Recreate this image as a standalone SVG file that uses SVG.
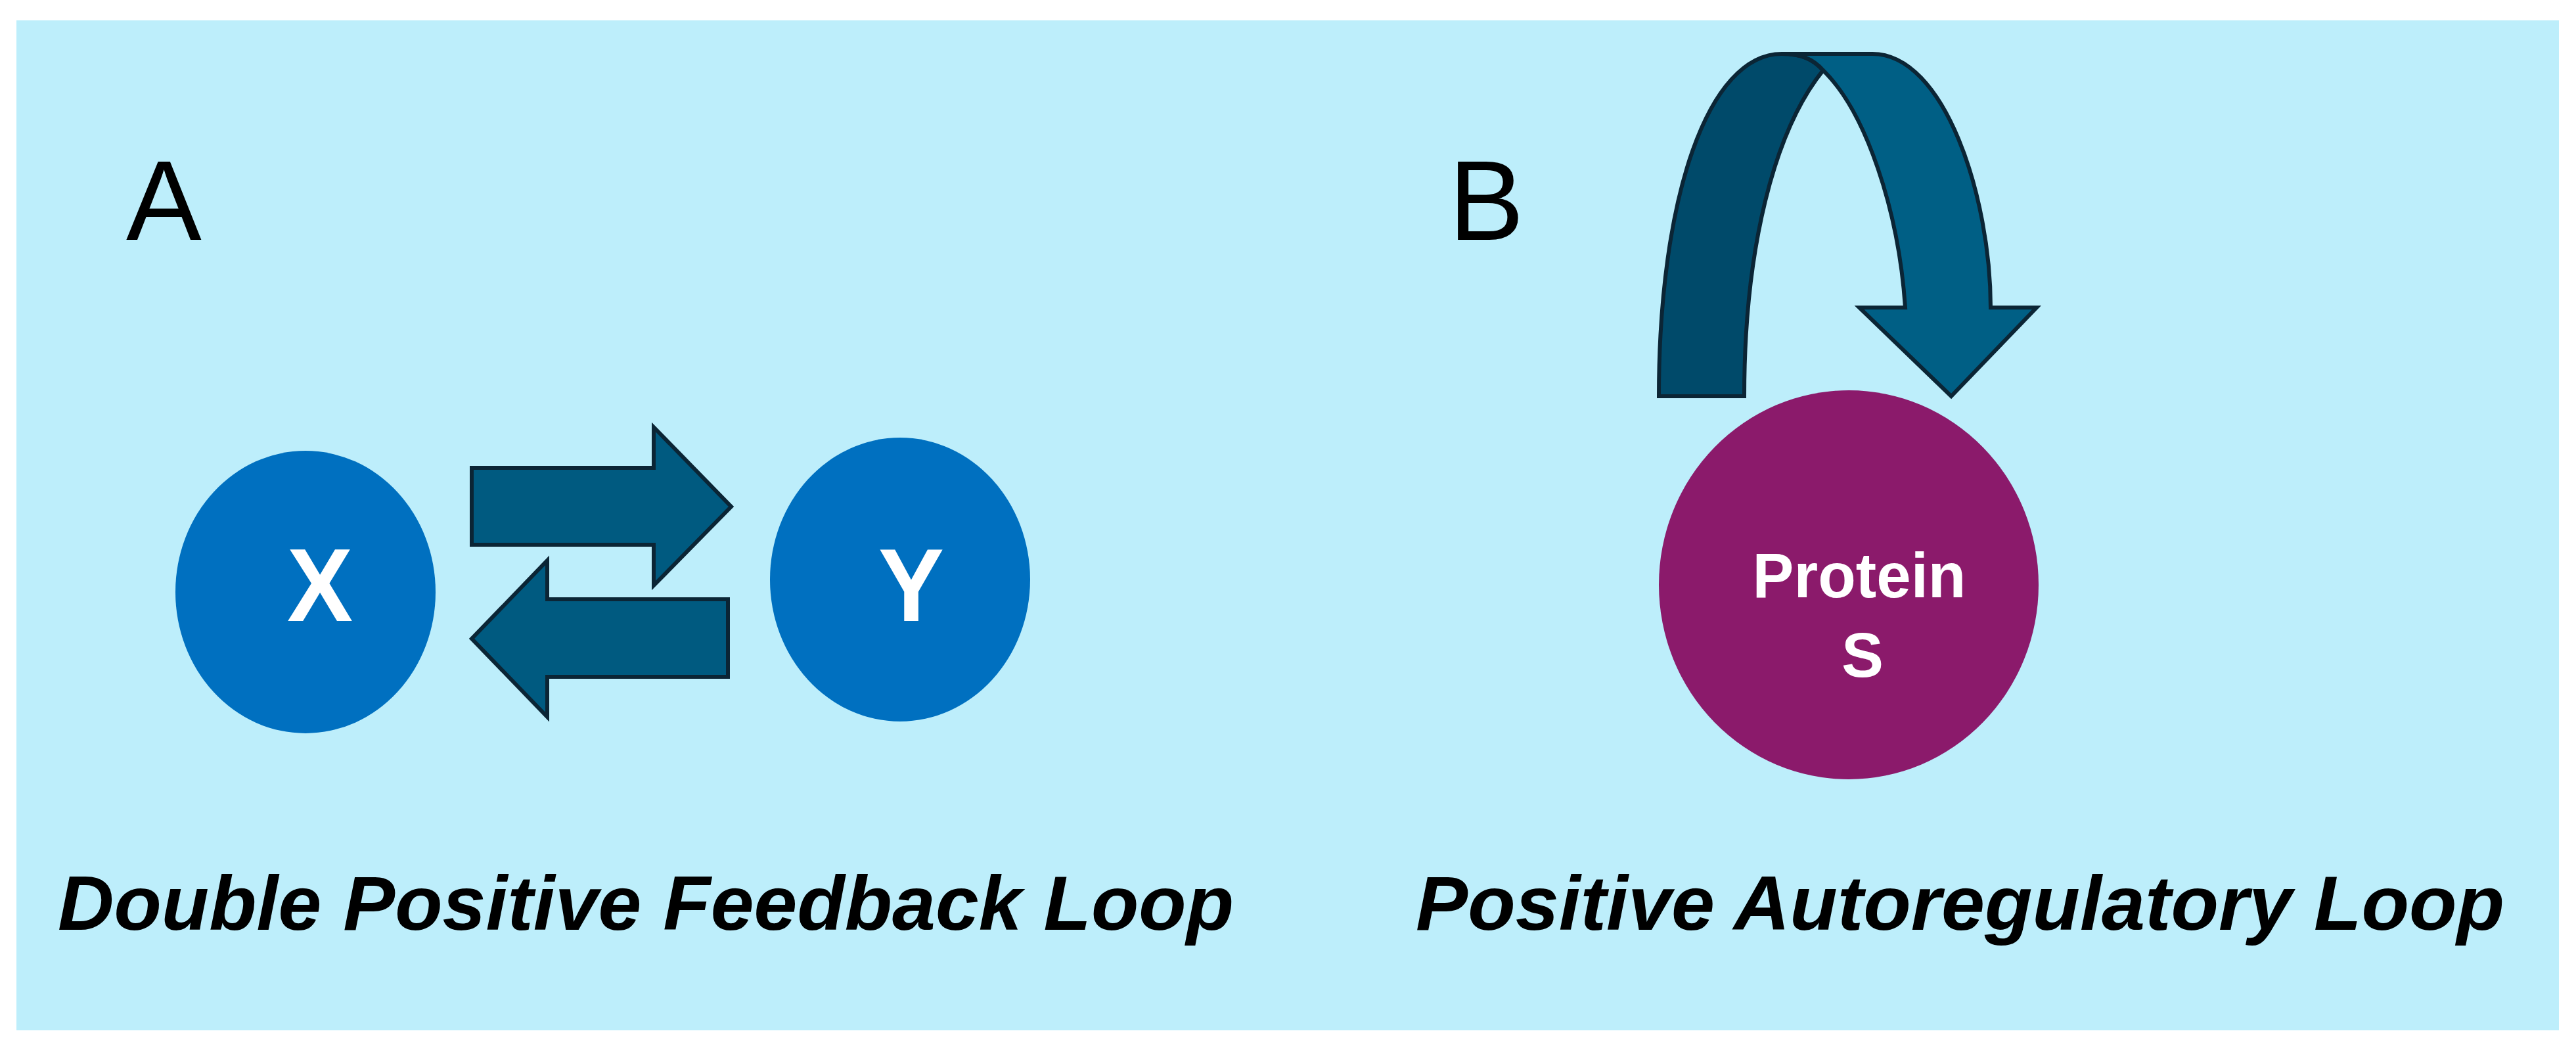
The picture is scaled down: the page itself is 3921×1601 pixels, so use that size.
<svg xmlns="http://www.w3.org/2000/svg" width="3921" height="1601" viewBox="0 0 3921 1601">
<style>
.arr{fill:#005a80;stroke:#0b2535;stroke-width:6;stroke-linejoin:miter}
.lbl{font-family:"Liberation Sans",Arial,sans-serif;font-size:172px;fill:#000}
.cap{font-family:"Liberation Sans",Arial,sans-serif;font-size:116px;font-weight:bold;font-style:italic;fill:#000}
.nt{font-family:"Liberation Sans",Arial,sans-serif;font-weight:bold;fill:#fff;text-anchor:middle}
</style>
<rect width="3921" height="1601" fill="#fff"/>
<rect x="25" y="31" width="3870" height="1537" fill="#bdeefb"/>
<text class="lbl" x="192" y="365">A</text>
<text class="lbl" x="2205" y="365">B</text>
<g id="X"><ellipse cx="465" cy="901" rx="198" ry="215" fill="#0070c0"/><text class="nt" x="487" y="945" font-size="157" textLength="100" lengthAdjust="spacingAndGlyphs">X</text></g>
<g id="Y"><ellipse cx="1370" cy="882" rx="198" ry="216" fill="#0070c0"/><text class="nt" x="1387" y="945" font-size="157" textLength="100" lengthAdjust="spacingAndGlyphs">Y</text></g>
<g id="ProteinS"><ellipse cx="2814" cy="890" rx="289" ry="296" fill="#8b1a6b"/><text class="nt" x="2830" y="909" font-size="96" textLength="325" lengthAdjust="spacingAndGlyphs">Protein</text><text class="nt" x="2835" y="1030" font-size="96">S</text></g>
<g id="connectors">
<path class="arr" d="M718,712 L995,712 L995,650 L1113,771 L995,891 L995,829 L718,829 Z"/>
<path class="arr" d="M1108,912 L833,912 L833,853 L718,972 L833,1091 L833,1030 L1108,1030 Z"/>
<path class="arr" style="fill:#004a6a" d="M2525,603 L2655,603 C2655,380 2700,200 2775,107 C2760,90 2742,82 2712,82 C2600,82 2525,300 2525,603 Z"/>
<path class="arr" style="fill:#005f85" d="M2712,82 L2850,82 C2960,82 3030,300 3030,468 L3100,468 L2970,603 L2830,468 L2900,468 C2890,320 2840,170 2775,107 C2760,90 2742,82 2712,82 Z"/>
</g>
<text class="cap" x="88" y="1415" textLength="1790" lengthAdjust="spacingAndGlyphs">Double Positive Feedback Loop</text>
<text class="cap" x="2155" y="1415" textLength="1657" lengthAdjust="spacingAndGlyphs">Positive Autoregulatory Loop</text>
</svg>
